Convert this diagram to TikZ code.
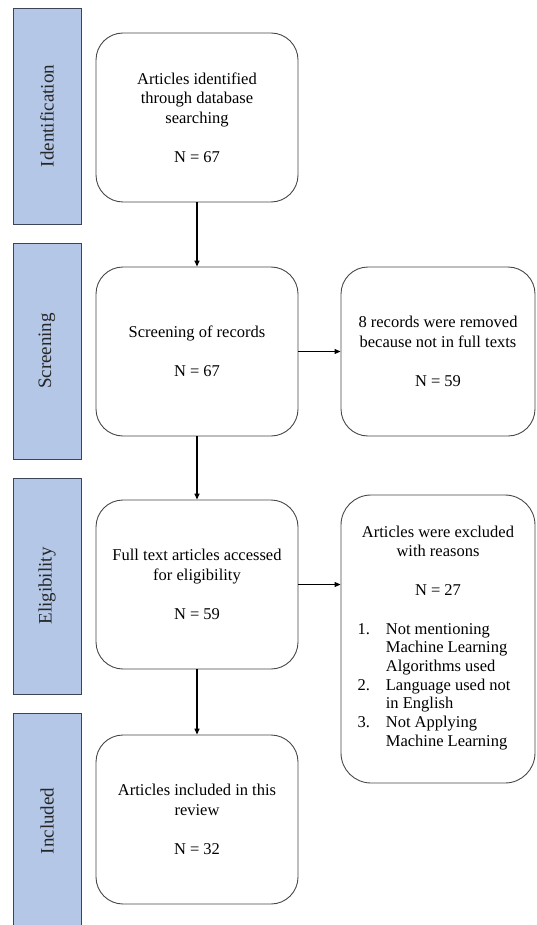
\documentclass[tikz,border=0pt]{standalone}
\usepackage{fontspec}
\setmainfont{Liberation Serif}
\usetikzlibrary{positioning,arrows.meta}

\definecolor{barfill}{RGB}{180,199,231}
\definecolor{barline}{RGB}{60,68,88}
\definecolor{boxline}{RGB}{72,72,72}

\begin{document}
\begin{tikzpicture}[
  x=1pt, y=-1pt,
  phase/.style={draw=barline, line width=0.8pt, fill=barfill, rotate=90,
    minimum width=216pt, minimum height=68pt, inner sep=0pt,
    font=\fontsize{19}{22}\selectfont, text=black!85},
  stage/.style={draw=boxline, line width=0.9pt, rounded corners=27pt,
    minimum width=202pt, minimum height=169pt, inner sep=0pt, align=center,
    font=\fontsize{16.5}{19.5}\selectfont},
  side/.style={stage, minimum width=194pt},
  flow/.style={-{Triangle[length=6pt, width=5pt]}, line width=1.4pt},
  feed/.style={-{Triangle[length=6pt, width=5pt]}, line width=0.9pt}
]
  \useasboundingbox (0,0) rectangle (536,925);

  % --- phase bars (left-hand column) ------------------------------------
  \node[phase] (idbar)  at (47,116) {Identification};
  \node[phase] (scrbar) at (47,351) {Screening};
  \node[phase] (elbar)  at (47,586) {Eligibility};
  \node[phase] (incbar) at (47,821) {Included};

  % --- main flow --------------------------------------------------------
  \node[stage] (ident) at (197,117.5)
    {Articles identified\\through database\\searching\\[19.5pt]N = 67};
  \node[stage] (screen) at (197,351.5)
    {Screening of records\\[19.5pt]N = 67};
  \node[stage] (elig) at (197,584.5)
    {Full text articles accessed\\for eligibility\\[19.5pt]N = 59};
  \node[stage] (incl) at (197,819.5)
    {Articles included in this\\review\\[19.5pt]N = 32};

  % --- removed / excluded records --------------------------------------
  \node[side] (removed) at (438,351.5)
    {8 records were removed\\because not in full texts\\[19.5pt]N = 59};
  \node[side, minimum height=288pt, rounded corners=30pt] (excl) at (438,639)
    {Articles were excluded\\with reasons\\[19.5pt]N = 27\\[24pt]%
     \renewcommand{\arraystretch}{0.96}%
     \begin{tabular}{@{}l@{\hspace{16pt}}l@{}}
       1. & Not mentioning\\
          & Machine Learning\\
          & Algorithms used\\
       2. & Language used not\\
          & in English\\
       3. & Not Applying\\
          & Machine Learning
     \end{tabular}\hspace*{8pt}};

  % --- connectors -------------------------------------------------------
  \draw[flow] (ident) -- (screen);
  \draw[flow] (screen) -- (elig);
  \draw[flow] (elig) -- (incl);
  \draw[feed] (screen) -- (removed);
  \draw[feed] (elig.east) -- (elig.east -| excl.west);
\end{tikzpicture}
\end{document}
